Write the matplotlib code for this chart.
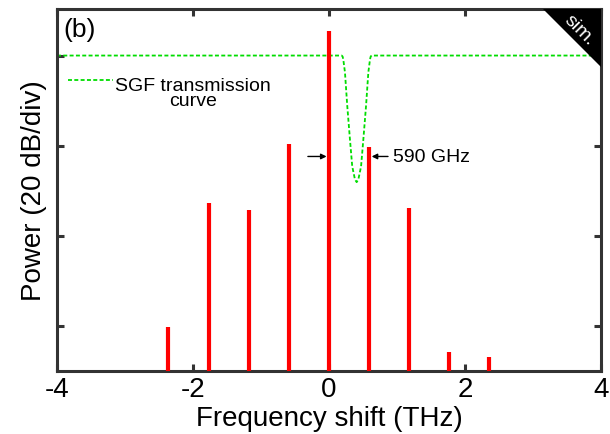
import matplotlib
matplotlib.use("Agg")
import matplotlib.pyplot as plt
from matplotlib.patches import Polygon

plt.rcParams['font.family'] = ['Liberation Sans', 'DejaVu Sans']

# Comb lines (THz, dB)
line_freqs = [-2.36, -1.77, -1.18, -0.59, 0.0, 0.59, 1.18, 1.77, 2.36]
line_power = [-60.2, -32.8, -34.3, -19.7, 5.4, -20.4, -33.9, -65.8, -67.0]

# SGF transmission curve (THz, dB)
sgf_x = [-4.0, 0.187, 0.200, 0.210, 0.235, 0.269, 0.309, 0.342, 0.382, 0.407,
         0.432, 0.472, 0.505, 0.545, 0.579, 0.604, 0.614, 0.627, 4.0]
sgf_y = [0.0, 0.0, -0.2, -0.8, -3.7, -11.2, -18.7, -24.6, -27.5, -28.1,
         -27.5, -24.6, -18.7, -11.2, -3.7, -0.8, -0.2, 0.0, 0.0]

xticks = [-4, -2, 0, 2, 4]
xtick_labels = ['-4', '-2', '0', '2', '4']
yticks = [-60, -40, -20, 0]

floor_db = -70.0
spine_col = '#333333'

fig = plt.figure(figsize=(6.1, 4.35), dpi=100)
ax = fig.add_axes([0.0934, 0.145, 0.8918, 0.832])

ax.vlines(line_freqs, floor_db, line_power, colors='#ff0000', linewidth=3.0, zorder=3)
ax.plot(sgf_x, sgf_y, color='#00dd00', linestyle=(0, (2.2, 1.3)), linewidth=1.3, zorder=2)

ax.set_xlim(-4, 4)
ax.set_ylim(floor_db, 10.33)
ax.set_xticks(xticks)
ax.set_xticklabels(xtick_labels)
ax.set_yticks(yticks)
ax.set_yticklabels([])
ax.tick_params(direction='in', length=5, width=2.2, color=spine_col,
               top=True, right=True, labelsize=20, pad=4)
for s in ax.spines.values():
    s.set_linewidth(2.2)
    s.set_color(spine_col)

ax.set_xlabel('Frequency shift (THz)', fontsize=20, labelpad=2)
ax.set_ylabel('Power (20 dB/div)', fontsize=20, labelpad=3)

# panel label
ax.text(0.011, 0.978, '(b)', transform=ax.transAxes, fontsize=19, ha='left', va='top')

# "sim." corner triangle
tri = Polygon([[0.893, 1.0], [1.0, 1.0], [1.0, 0.84]], closed=True,
              transform=ax.transAxes, facecolor='black', edgecolor='none',
              zorder=5, clip_on=False)
ax.add_patch(tri)
ax.text(0.961, 0.943, 'sim.', transform=ax.transAxes, color='white', fontsize=14,
        rotation=-45, ha='center', va='center', zorder=6)

# legend-like annotation
ax.plot([-3.84, -3.17], [-5.5, -5.5], color='#00dd00', linestyle=(0, (2.2, 1.3)),
        linewidth=1.3)
ax.text(-2.0, -8.3, 'SGF transmission\ncurve', fontsize=14, ha='center', va='center',
        linespacing=0.9)

# 590 GHz spacing arrows
arr = dict(arrowstyle='-|>', color='black', lw=1.0, mutation_scale=8, shrinkA=0, shrinkB=0)
ax.annotate('', xy=(-0.035, -22.4), xytext=(-0.31, -22.4), arrowprops=arr)
ax.annotate('', xy=(0.628, -22.4), xytext=(0.868, -22.4), arrowprops=arr)
ax.text(0.94, -22.4, '590 GHz', fontsize=14, ha='left', va='center')

fig.savefig('out.png', dpi=100)
